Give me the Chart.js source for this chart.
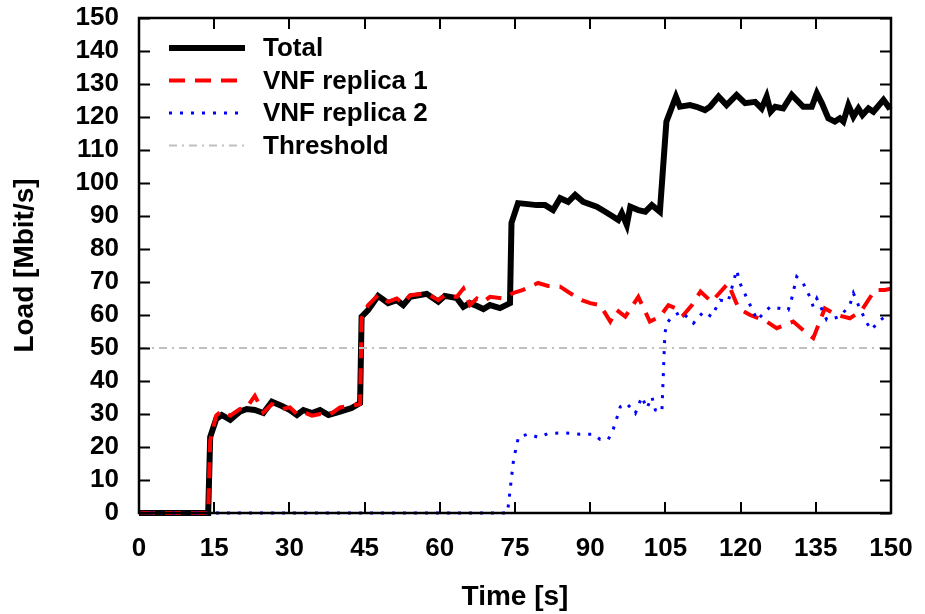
<!DOCTYPE html>
<html>
<head>
<meta charset="utf-8">
<script src="https://cdn.jsdelivr.net/npm/chart.js@4.4.1/dist/chart.umd.min.js"></script>
<style>
  html, body { margin: 0; padding: 0; background: #fff; }
  #wrap { width: 925px; height: 614px; }
</style>
</head>
<body>
<div id="wrap"><canvas id="chart" width="925" height="614"></canvas></div>
<script>
// data
var totalTime = [0, 13.8, 14.2, 15.4, 16.5, 18.2, 20.1, 21.5, 23.1, 24.8, 26.5, 28.5, 30.1, 31.5, 32.8, 34.5, 36.1, 37.8, 40.1, 42.4, 44.1,
    44.4, 45.7, 47.7, 49.7, 51.4, 52.7, 54.1, 57.4, 59.7, 61, 63.4, 64.7, 66, 67.4, 68.7, 70, 72, 74,
    74.3, 75.6, 77.6, 79.3, 81, 82.6, 84, 85.6, 87, 88.6, 91.3, 93, 94.6, 95.6, 96.3, 97.3, 98, 99.6, 101, 102.3, 103.9,
    105.2, 107.1, 107.9, 109.9, 111.2, 112.9, 113.9, 115.6, 117.2, 119.2, 120.9, 122.9, 124.2, 125.2, 126, 126.9, 128.5,
    130.2, 132.5, 134.2, 135.2, 136.2, 137.5, 138.8, 139.8, 140.5, 141.5, 142.5, 143.5, 144.3, 145.5, 146.5, 148.5, 149.5, 150];
var totalLoad = [0, 0, 23, 28.5, 29.7, 28.2, 30.7, 31.5, 31.2, 30.3, 33.7, 32.4, 31.2, 29.7, 31.2, 30.3, 31.2, 29.7, 30.7, 31.8, 33.3,
    59.5, 61.5, 65.8, 63.6, 64.5, 63, 65.5, 66.4, 64, 65.8, 65.1, 62.5, 63.6, 62.7, 61.8, 63, 62.1, 63.6,
    87.9, 93.9, 93.6, 93.3, 93.3, 91.8, 95.4, 94.3, 96.4, 94.3, 92.8, 91.3, 89.8, 88.8, 90.9, 87.3, 92.8, 91.8, 91.3, 93.3, 91.3,
    118.6, 126.2, 123.1, 123.6, 123.1, 122.1, 123.1, 126.2, 123.6, 126.7, 124.2, 124.6, 122.6, 126.2, 121.6, 123.1, 122.6,
    126.7, 123.1, 123.1, 127.2, 124.2, 119.6, 118.6, 119.6, 118.6, 123.6, 120.1, 122.6, 120.6, 122.6, 121.6, 125.2, 123.1, 123.5];

var replica1Time = [0, 13.8, 14.2, 15.4, 16.5, 18.2, 20.1, 21.5, 23.1, 24.8, 26.5, 28.5, 30.1, 31.5, 32.8, 34.5, 36.1, 37.8, 40.1, 42.4, 44.1,
    44.4, 45.7, 47.7, 49.7, 51.4, 52.7, 54.1, 57.4, 59.7, 61, 63.4, 64.7, 66, 67.4, 68.7, 70, 72.6, 74.6,
    76.6, 79.6, 81.6, 84, 86, 88.3, 90, 92, 94, 95.3, 97, 99.6, 101.9, 103.9, 105.6, 107.9, 108.6, 110.3, 112, 114.2,
    117.5, 119.6, 121.9, 125.2, 127.2, 130.5, 132.8, 134.5, 136.8, 139.2, 141.8, 144.2, 146.8, 148.8, 150];
var replica1Load = [0, 0, 22, 29.5, 31, 29.5, 31.5, 32, 35.5, 30.5, 33, 31.5, 32, 30, 30.5, 29.5, 30, 29.5, 32, 32.5, 33,
    59, 63, 66, 64, 65, 63.5, 66, 66.5, 64.5, 66, 65.5, 68, 63, 65, 64, 65.5, 65, 66.6,
    67.6, 69.7, 68.8, 68.6, 66.6, 64.5, 63.6, 63, 58, 61.5, 59.5, 65.5, 58, 59.5, 63, 61.5, 60, 63, 67.1, 64,
    69.6, 62, 60, 58, 56, 58, 55, 53, 62, 60, 59, 61.5, 67.6, 67.6, 68];

var replica2Time = [0, 73.5, 74.7, 75.7, 77.7, 79.7, 81.6, 84.6, 88, 90.6, 92, 93.6, 94.6, 95.3, 96, 97.3, 99, 100.3, 101.3, 102.3, 103, 104.3,
    104.9, 105.3, 106.3, 108.2, 110.6, 112.6, 114.2, 115.9, 117.5, 119.2, 119.9, 121.6, 123.3, 125.9, 127.9, 129.5, 130.2,
    131.2, 132.5, 133.8, 134.5, 135.2, 137.2, 139.8, 141.8, 142.5, 143.5, 145.2, 146.1, 147.5, 148.8, 150];
var replica2Load = [0, 0, 16, 23.1, 23.9, 22.9, 24.1, 24.3, 23.9, 23.9, 22.3, 22.3, 25.4, 28.7, 32.2, 33.2, 30.2, 35.2, 31.7, 35.2, 31.2, 30.7,
    54.5, 57.5, 59.5, 61, 57.5, 61, 59.5, 64.5, 64, 73.6, 69.6, 64, 58.5, 62.5, 62, 61.5, 65,
    71.6, 69.6, 65.5, 62.5, 65, 58.5, 59.5, 63, 66.6, 63, 57.5, 55.5, 58, 59.5, 60];

var thresholdTime = [0, 150];
var thresholdLoad = [50, 50];

var xTicks = [0, 15, 30, 45, 60, 75, 90, 105, 120, 135, 150];
var yTicks = [0, 10, 20, 30, 40, 50, 60, 70, 80, 90, 100, 110, 120, 130, 140, 150];

var seriesNames = ['Total', 'VNF replica 1', 'VNF replica 2', 'Threshold'];

function toPoints(xs, ys) {
    return xs.map(function(x, i) { return { x: x, y: ys[i] }; });
}

var FONT = 'Liberation Sans, Arial, sans-serif';

// gnuplot style frame with inward ticks on all four sides
var frameTicks = {
    id: 'frameTicks',
    afterDraw: function(chart) {
        var ctx = chart.ctx, a = chart.chartArea;
        var xs = chart.scales.x, ys = chart.scales.y;
        ctx.save();
        ctx.strokeStyle = '#000';
        ctx.lineWidth = 2;
        ctx.beginPath();
        yTicks.forEach(function(v) {
            var p = Math.round(ys.getPixelForValue(v)) + 0.5;
            ctx.moveTo(a.left, p); ctx.lineTo(a.left + 11, p);
            ctx.moveTo(a.right, p); ctx.lineTo(a.right - 11, p);
        });
        xTicks.forEach(function(v) {
            var p = Math.round(xs.getPixelForValue(v));
            ctx.moveTo(p, a.bottom); ctx.lineTo(p, a.bottom - 11);
            ctx.moveTo(p, a.top); ctx.lineTo(p, a.top + 11);
        });
        ctx.stroke();
        ctx.lineWidth = 2.5;
        ctx.strokeRect(a.left, a.top, a.right - a.left, a.bottom - a.top);
        ctx.restore();
    }
};

// legend inside the plot, top left
var insideLegend = {
    id: 'insideLegend',
    afterDraw: function(chart) {
        var ctx = chart.ctx, a = chart.chartArea;
        ctx.save();
        ctx.font = 'bold 26px ' + FONT;
        ctx.textBaseline = 'middle';
        ctx.fillStyle = '#000';
        chart.data.datasets.forEach(function(ds, i) {
            var y = a.top + 30 + i * 32.5;
            ctx.strokeStyle = ds.borderColor;
            ctx.lineWidth = ds.borderWidth;
            ctx.setLineDash(ds.borderDash || []);
            ctx.beginPath();
            ctx.moveTo(a.left + 30, y);
            ctx.lineTo(a.left + 106, y);
            ctx.stroke();
            ctx.setLineDash([]);
            ctx.fillText(ds.label, a.left + 124, y + 1);
        });
        ctx.restore();
    }
};

new Chart(document.getElementById('chart'), {
    type: 'line',
    data: {
        datasets: [
            { label: seriesNames[0], data: toPoints(totalTime, totalLoad), borderColor: '#000000', borderWidth: 6, order: 4 },
            { label: seriesNames[1], data: toPoints(replica1Time, replica1Load), borderColor: '#ff0000', borderWidth: 4, borderDash: [16, 10], order: 3 },
            { label: seriesNames[2], data: toPoints(replica2Time, replica2Load), borderColor: '#0000ff', borderWidth: 3, borderDash: [3, 8], order: 2 },
            { label: seriesNames[3], data: toPoints(thresholdTime, thresholdLoad), borderColor: '#c0c0c0', borderWidth: 2, borderDash: [8, 5, 2, 5], order: 1 }
        ]
    },
    options: {
        responsive: false,
        animation: false,
        layout: { padding: { left: 0, right: 34, top: 18, bottom: 0 } },
        elements: {
            point: { radius: 0 },
            line: { tension: 0, fill: false, borderCapStyle: 'butt', borderJoinStyle: 'miter' }
        },
        datasets: { line: { clip: 6 } },
        plugins: {
            legend: { display: false },
            tooltip: { enabled: false }
        },
        scales: {
            x: {
                type: 'linear',
                min: 0, max: 150,
                afterBuildTicks: function(s) { s.ticks = xTicks.map(function(v) { return { value: v }; }); },
                afterFit: function(s) { s.height = 101; s.paddingLeft = 0; s.paddingRight = 0; },
                grid: { display: false, drawTicks: false },
                border: { display: false },
                ticks: { color: '#000', padding: 20, maxRotation: 0, autoSkip: false, font: { family: FONT, size: 26, weight: 'bold' } },
                title: { display: true, text: 'Time [s]', color: '#000', padding: { top: 10, bottom: 0 }, font: { family: FONT, size: 28, weight: 'bold' } }
            },
            y: {
                min: 0, max: 150,
                afterBuildTicks: function(s) { s.ticks = yTicks.map(function(v) { return { value: v }; }); },
                afterFit: function(s) { s.width = 139; s.paddingTop = 0; s.paddingBottom = 0; },
                grid: { display: false, drawTicks: false },
                border: { display: false },
                ticks: { color: '#000', padding: 20, autoSkip: false, font: { family: FONT, size: 26, weight: 'bold' } },
                title: { display: true, text: 'Load [Mbit/s]', color: '#000', padding: { top: 8, bottom: 0 }, font: { family: FONT, size: 28, weight: 'bold' } }
            }
        }
    },
    plugins: [frameTicks, insideLegend]
});
</script>
</body>
</html>
